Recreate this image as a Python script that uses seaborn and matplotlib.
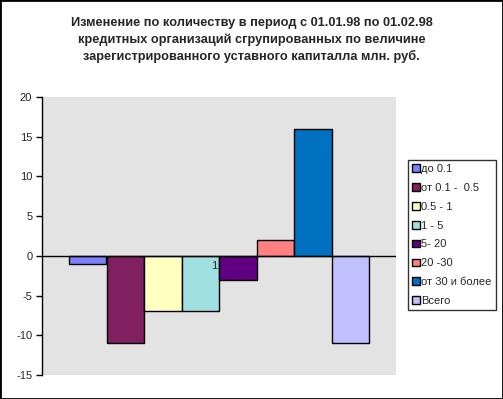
import matplotlib
matplotlib.use("Agg")
import matplotlib.pyplot as plt
import seaborn as sns
import pandas as pd
from matplotlib.patches import Rectangle

title = ("Изменение по количеству в период с 01.01.98 по 01.02.98\n"
         "кредитных организаций сгрупированных по величине\n"
         "зарегистрированного уставного капиталла млн. руб.")
categories = ["до 0.1", "от 0.1 -  0.5", "0.5 - 1", "1 - 5", "5- 20", "20 -30",
              "от 30 и более", "Всего"]
values = [-1, -11, -7, -7, -3, 2, 16, -11]
colors = ["#8080FF", "#802060", "#FFFFC0", "#A0E0E0", "#600080", "#FF8080",
          "#0070C0", "#C0C0FF"]
group_label = ["1"]
yticks = [-15, -10, -5, 0, 5, 10, 15, 20]

sns.set_style("white")
plt.rcParams["font.family"] = ["Liberation Sans", "DejaVu Sans"]

df = pd.DataFrame({"grp": group_label * len(categories), "cat": categories, "val": values})

fig = plt.figure(figsize=(5.03, 3.99), dpi=100)
ax = fig.add_axes([42/503, 1-375/399, (396-42)/503, (375-97)/399])
ax.set_facecolor("#E3E3E3")

sns.barplot(data=df, x="grp", y="val", hue="cat", hue_order=categories,
            palette=colors, width=300/354, edgecolor="black", linewidth=1,
            saturation=1, ax=ax, legend=True, zorder=3)

ax.set_xlim(-0.5, 0.5)
ax.set_ylim(-15, 20)
ax.set_yticks(yticks)
ax.set_yticklabels([str(t) for t in yticks], fontsize=8)
ax.set_xticks([])
ax.set_xlabel("")
ax.set_ylabel("")
ax.axhline(0, color="black", lw=1, zorder=4)
for s in ["top", "right", "bottom"]:
    ax.spines[s].set_visible(False)
ax.spines["left"].set_color("black")
ax.spines["left"].set_linewidth(1)
ax.tick_params(axis="y", direction="out", length=4, width=1, color="black", left=True, pad=3)
ax.text(-0.005, -0.6, group_label[0], ha="right", va="top", fontsize=8, zorder=5)

handles, labels = ax.get_legend_handles_labels()
ax.get_legend().remove()
leg = fig.legend(handles, labels, loc="upper left",
                 bbox_to_anchor=(408/503, 1-160/399), fontsize=8,
                 frameon=True, fancybox=False, edgecolor="black",
                 handlelength=0.7, handleheight=0.7, handletextpad=0.15,
                 labelspacing=0.8, borderpad=0.35, borderaxespad=0)
leg.get_frame().set_linewidth(1)

fig.text(0.5, 1-40/399, title, ha="center", va="center", fontsize=9.2,
         fontweight="bold", linespacing=1.4)

fig.patches.append(Rectangle((0, 0), 1, 1, transform=fig.transFigure,
                             fill=False, edgecolor="black", lw=2, zorder=10))

fig.savefig("out.png", dpi=100)
